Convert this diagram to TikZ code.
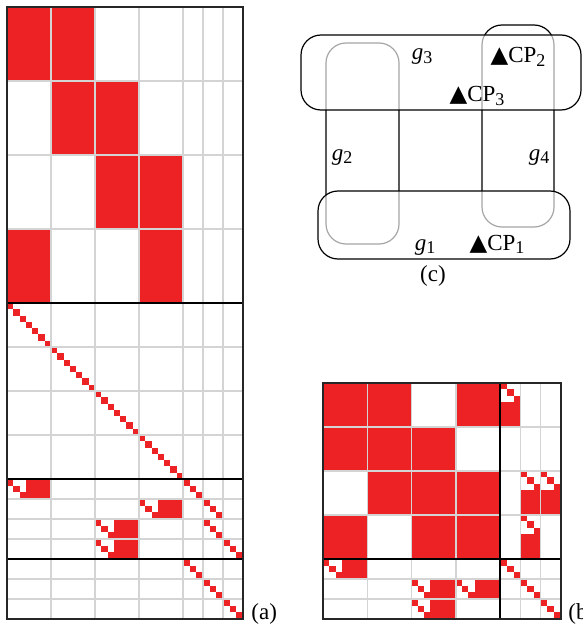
\documentclass[tikz,border=0pt]{standalone}
\usepackage{fontspec}
\setmainfont{Liberation Serif}
\newfontfamily\symfont{DejaVu Sans}
\usetikzlibrary{positioning}

\definecolor{cellred}{RGB}{237,34,36}
\definecolor{gridgray}{RGB}{212,212,212}

% subscript as printed in the figure
\newcommand{\lowidx}[1]{\raisebox{-1.6pt}{\fontsize{9}{9}\selectfont #1}}
% run of diagonal cells: x, y, count, cell width, cell height
\newcommand{\diagcells}[5]{%
  \foreach \k in {1,...,#3}
    \fill[cellred] ({#1+(\k-1)*#4},{#2+(\k-1)*#5}) rectangle ++(#4,#5);}
% 3 rows x 7 units: diagonal start, then a full block
\newcommand{\hpattern}[4]{%
  \diagcells{#1}{#2}{3}{#3}{#4}
  \fill[cellred] ({#1+3*#3},#2) rectangle ({#1+7*#3},{#2+3*#4});}
% 7 rows x 3 units: the transposed pattern
\newcommand{\vpattern}[4]{%
  \diagcells{#1}{#2}{3}{#3}{#4}
  \fill[cellred] (#1,{#2+3*#4}) rectangle ({#1+3*#3},{#2+7*#4});}

\begin{document}
\begin{tikzpicture}[
    x=0.5pt, y=-0.5pt,
    gridline/.style={draw=gridgray, line width=0.75pt},
    blockline/.style={draw=black, line width=0.8pt},
    frame/.style={draw=black!85, line width=1pt},
    setbox/.style={draw=black, line width=0.6pt, rounded corners=10pt},
    lbl/.style={font=\fontsize{11.5}{14}\selectfont, inner sep=0pt, anchor=base},
]
    \useasboundingbox (0,0) rectangle (583,626);

    % Matrix (a): top block
    \fill[cellred] (7,7) rectangle (95,81);
    \fill[cellred] (51,81) rectangle (139,155);
    \fill[cellred] (95,155) rectangle (183,229);
    \fill[cellred] (7,229) rectangle (51,303);
    \fill[cellred] (139,229) rectangle (183,303);

    % Matrix (a): identity part
    \diagcells{7}{303}{28}{6.2857}{6.2857}

    % Matrix (a): lower blocks
    \hpattern{7}{479}{6.2857}{6.6667}
    \hpattern{139}{499}{6.2857}{6.6667}
    \hpattern{95}{519}{6.2857}{6.6667}
    \hpattern{95}{539}{6.2857}{6.6667}
    \diagcells{183}{479}{3}{6.6667}{6.6667}
    \diagcells{203}{499}{3}{6.6667}{6.6667}
    \diagcells{203}{519}{3}{6.6667}{6.6667}
    \diagcells{223}{539}{3}{6.6667}{6.6667}
    \diagcells{183}{559}{3}{6.6667}{6.6667}
    \diagcells{203}{579}{3}{6.6667}{6.6667}
    \diagcells{223}{599}{3}{6.6667}{6.6667}

    % Matrix (a): grid
    \foreach \x in {51,95,139,183,203,223}
        \draw[gridline] (\x,7) -- (\x,619);
    \foreach \y in {81,155,229,347,391,435,499,519,539,579,599}
        \draw[gridline] (7,\y) -- (243,\y);
    \foreach \y in {303,479,559}
        \draw[blockline] (7,\y) -- (243,\y);
    \draw[frame] (7,7) rectangle (243,619);

    % Matrix (b): top left block
    \foreach \c/\r in {1/1,2/1,4/1,1/2,2/2,3/2,2/3,3/3,4/3,1/4,3/4,4/4}
        \fill[cellred] ({323+(\c-1)*44.25},{383+(\r-1)*44}) rectangle ++(44.25,44);

    % Matrix (b): side blocks
    \vpattern{500}{383}{6.7778}{6.2857}
    \vpattern{520.33}{471}{6.7778}{6.2857}
    \vpattern{540.67}{471}{6.7778}{6.2857}
    \vpattern{520.33}{515}{6.7778}{6.2857}
    \hpattern{323}{559}{6.3214}{6.6667}
    \hpattern{411.5}{579}{6.3214}{6.6667}
    \hpattern{455.75}{579}{6.3214}{6.6667}
    \hpattern{411.5}{599}{6.3214}{6.6667}
    \diagcells{500}{559}{9}{6.7778}{6.6667}

    % Matrix (b): grid
    \foreach \x in {367.25,411.5,455.75,520.33,540.67}
        \draw[gridline] (\x,383) -- (\x,619);
    \foreach \y in {427,471,515,579,599}
        \draw[gridline] (323,\y) -- (561,\y);
    \draw[blockline] (500,383) -- (500,619);
    \draw[blockline] (323,559) -- (561,559);
    \draw[frame] (323,383) rectangle (561,619);

    % Diagram (c): vertical sets, then horizontal sets over them
    \draw[setbox] (326,43) rectangle (399,244);
    \draw[setbox] (482,25) rectangle (554,227);
    \draw[setbox, fill=white, fill opacity=0.65] (301,35) rectangle (581,110);
    \draw[setbox, fill=white, fill opacity=0.65] (318,191) rectangle (570,259);

    % Diagram (c): labels
    \node[lbl] (gthree) at (422,60) {\textit{g}\lowidx{3}};
    \node[lbl] (gtwo) at (342,160) {\textit{g}\lowidx{2}};
    \node[lbl] (gfour) at (539,160) {\textit{g}\lowidx{4}};
    \node[lbl] (gone) at (425,250) {\textit{g}\lowidx{1}};
    \node[lbl] (cptwo) at (518,63) {{\symfont ▲}CP\lowidx{2}};
    \node[lbl] (cpthree) at (477,102) {{\symfont ▲}CP\lowidx{3}};
    \node[lbl] (cpone) at (497,250) {{\symfont ▲}CP\lowidx{1}};

    % Panel labels
    \node[lbl] (lblc) at (433,281) {(c)};
    \node[lbl, anchor=base west] (lbla) at (251,619) {(a)};
    \node[lbl, anchor=base west] (lblb) at (568,619) {(b)};
\end{tikzpicture}
\end{document}
